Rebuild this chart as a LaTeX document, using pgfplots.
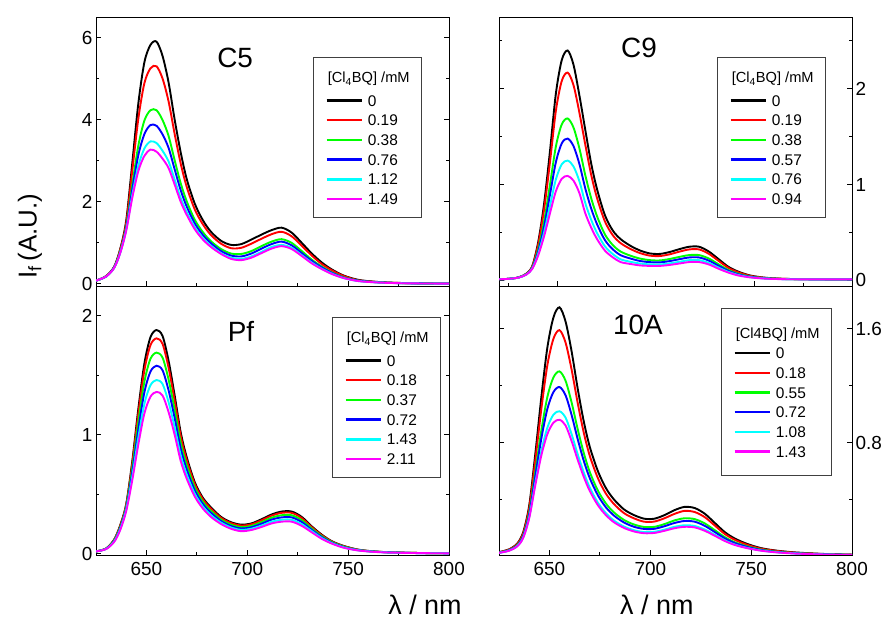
\documentclass[border=0pt]{standalone}
\usepackage{fontspec}
\setmainfont{Liberation Sans}
\usepackage{pgfplots}
\usepackage{pgfplotstable}
\pgfplotsset{compat=1.18}
\definecolor{cBlack}{RGB}{0,0,0}
\definecolor{cRed}{RGB}{255,0,0}
\definecolor{cGreen}{RGB}{0,255,0}
\definecolor{cBlue}{RGB}{0,0,255}
\definecolor{cCyan}{RGB}{0,255,255}
\definecolor{cMag}{RGB}{255,0,255}

% columns: x, [Cl4BQ]=0, c1, c2, c3, c4, c5
\pgfplotstableread{
x k r g b c m
625 0.08 0.08 0.08 0.08 0.08 0.08
630 0.19 0.19 0.18 0.18 0.18 0.18
634 0.42 0.41 0.40 0.40 0.39 0.39
637 0.85 0.83 0.79 0.77 0.76 0.75
640 1.55 1.49 1.39 1.36 1.32 1.30
643 2.95 2.76 2.42 2.30 2.17 2.10
646 4.40 4.03 3.37 3.14 2.88 2.75
649 5.40 4.89 3.98 3.65 3.30 3.12
652 5.82 5.25 4.23 3.87 3.47 3.27
655 5.90 5.30 4.23 3.85 3.43 3.22
658 5.55 5.00 3.99 3.64 3.24 3.05
661 4.90 4.44 3.60 3.31 2.98 2.82
664 4.00 3.65 3.01 2.79 2.54 2.42
667 3.20 2.93 2.45 2.28 2.09 2.00
670 2.55 2.36 2.01 1.88 1.75 1.68
674 1.95 1.81 1.56 1.47 1.38 1.33
678 1.55 1.45 1.26 1.19 1.12 1.08
682 1.27 1.19 1.04 0.99 0.93 0.90
687 1.05 0.98 0.85 0.80 0.75 0.73
692 0.95 0.87 0.74 0.69 0.64 0.61
697 0.97 0.88 0.73 0.67 0.61 0.58
702 1.08 0.98 0.80 0.74 0.67 0.64
707 1.20 1.10 0.92 0.86 0.78 0.75
712 1.31 1.21 1.03 0.97 0.90 0.86
717 1.37 1.27 1.09 1.03 0.95 0.92
722 1.25 1.16 1.00 0.94 0.88 0.85
727 1.00 0.93 0.80 0.75 0.70 0.68
732 0.74 0.69 0.59 0.56 0.52 0.50
737 0.52 0.48 0.42 0.40 0.37 0.36
742 0.35 0.33 0.28 0.27 0.25 0.24
748 0.20 0.19 0.16 0.15 0.14 0.14
755 0.10 0.09 0.08 0.08 0.07 0.07
763 0.055 0.052 0.046 0.044 0.041 0.04
772 0.03 0.028 0.025 0.024 0.023 0.022
785 0.015 0.014 0.013 0.013 0.012 0.012
800 0.01 0.01 0.009 0.008 0.008 0.008
}\dataCfive

\pgfplotstableread{
x k r g b c m
620 0.01 0.01 0.01 0.01 0.01 0.01
625 0.015 0.015 0.015 0.015 0.015 0.015
630 0.03 0.03 0.029 0.029 0.028 0.028
634 0.07 0.068 0.065 0.063 0.061 0.06
637 0.15 0.145 0.134 0.129 0.124 0.12
640 0.40 0.375 0.324 0.302 0.277 0.26
643 0.80 0.74 0.616 0.561 0.501 0.46
646 1.35 1.236 0.998 0.894 0.779 0.70
649 1.95 1.77 1.397 1.234 1.054 0.93
652 2.30 2.082 1.628 1.43 1.211 1.06
655 2.40 2.169 1.69 1.48 1.25 1.09
658 2.25 2.037 1.594 1.401 1.188 1.04
661 1.93 1.75 1.377 1.214 1.034 0.91
664 1.57 1.417 1.098 0.959 0.806 0.70
667 1.22 1.102 0.857 0.75 0.632 0.55
670 0.95 0.858 0.668 0.585 0.493 0.43
674 0.68 0.615 0.479 0.42 0.355 0.31
678 0.52 0.471 0.368 0.323 0.274 0.24
682 0.43 0.388 0.30 0.262 0.219 0.19
687 0.36 0.327 0.257 0.227 0.193 0.17
692 0.31 0.283 0.226 0.201 0.174 0.155
697 0.28 0.257 0.21 0.189 0.166 0.15
702 0.275 0.253 0.207 0.187 0.165 0.15
707 0.295 0.271 0.222 0.20 0.176 0.16
712 0.325 0.299 0.244 0.22 0.193 0.175
717 0.35 0.322 0.263 0.238 0.21 0.19
722 0.35 0.322 0.263 0.238 0.21 0.19
727 0.30 0.276 0.227 0.205 0.181 0.165
732 0.22 0.202 0.166 0.15 0.132 0.12
737 0.14 0.129 0.107 0.098 0.087 0.08
742 0.09 0.083 0.068 0.062 0.055 0.05
748 0.05 0.046 0.039 0.036 0.032 0.03
755 0.028 0.026 0.023 0.021 0.019 0.018
763 0.017 0.016 0.014 0.013 0.013 0.012
772 0.012 0.012 0.011 0.011 0.01 0.01
785 0.01 0.01 0.009 0.009 0.009 0.009
800 0.01 0.01 0.009 0.009 0.009 0.009
}\dataCnine

\pgfplotstableread{
x k r g b c m
625 0.02 0.02 0.02 0.02 0.02 0.02
630 0.045 0.044 0.043 0.042 0.041 0.04
634 0.12 0.117 0.113 0.108 0.104 0.10
637 0.24 0.235 0.225 0.217 0.208 0.20
640 0.42 0.412 0.398 0.385 0.372 0.36
643 0.78 0.758 0.722 0.688 0.651 0.62
646 1.22 1.18 1.11 1.047 0.978 0.92
649 1.60 1.543 1.447 1.358 1.261 1.18
652 1.82 1.753 1.638 1.531 1.416 1.32
655 1.88 1.81 1.69 1.58 1.46 1.36
658 1.83 1.763 1.648 1.541 1.426 1.33
661 1.62 1.562 1.463 1.372 1.273 1.19
664 1.33 1.285 1.21 1.14 1.063 1.00
667 1.02 0.988 0.932 0.882 0.826 0.78
670 0.81 0.786 0.744 0.706 0.665 0.63
674 0.60 0.584 0.556 0.531 0.503 0.48
678 0.47 0.458 0.437 0.418 0.397 0.38
682 0.39 0.379 0.361 0.344 0.325 0.31
687 0.31 0.302 0.288 0.275 0.262 0.25
692 0.265 0.258 0.245 0.233 0.221 0.21
697 0.245 0.238 0.225 0.213 0.201 0.19
702 0.255 0.248 0.235 0.223 0.211 0.20
707 0.29 0.281 0.266 0.252 0.237 0.225
712 0.33 0.32 0.303 0.287 0.269 0.255
717 0.355 0.344 0.324 0.306 0.286 0.27
722 0.355 0.344 0.324 0.306 0.286 0.27
727 0.31 0.30 0.283 0.267 0.249 0.235
732 0.23 0.223 0.212 0.201 0.19 0.18
737 0.16 0.155 0.147 0.14 0.132 0.125
742 0.105 0.102 0.098 0.093 0.089 0.085
748 0.065 0.063 0.06 0.056 0.053 0.05
755 0.035 0.034 0.032 0.031 0.029 0.028
763 0.02 0.019 0.019 0.018 0.017 0.016
772 0.012 0.012 0.011 0.011 0.01 0.01
785 0.007 0.007 0.007 0.006 0.006 0.006
800 0.005 0.005 0.005 0.004 0.004 0.004
}\dataPf

\pgfplotstableread{
x k r g b c m
625 0.03 0.029 0.027 0.026 0.025 0.025
630 0.05 0.048 0.044 0.043 0.041 0.04
634 0.09 0.086 0.079 0.076 0.072 0.07
637 0.17 0.162 0.147 0.142 0.133 0.13
640 0.36 0.342 0.309 0.296 0.277 0.27
643 0.72 0.675 0.595 0.564 0.517 0.50
646 1.12 1.037 0.886 0.829 0.741 0.71
649 1.47 1.346 1.122 1.038 0.906 0.86
652 1.68 1.53 1.258 1.155 0.996 0.94
655 1.75 1.59 1.30 1.19 1.02 0.96
658 1.65 1.502 1.234 1.132 0.975 0.92
661 1.44 1.312 1.081 0.993 0.858 0.81
664 1.18 1.079 0.895 0.825 0.718 0.68
667 0.95 0.871 0.728 0.673 0.59 0.56
670 0.77 0.707 0.593 0.55 0.484 0.46
674 0.60 0.551 0.463 0.43 0.378 0.36
678 0.48 0.441 0.372 0.345 0.304 0.29
682 0.40 0.368 0.309 0.287 0.252 0.24
687 0.33 0.304 0.256 0.238 0.21 0.20
692 0.29 0.267 0.224 0.208 0.184 0.175
697 0.265 0.244 0.207 0.193 0.171 0.163
702 0.265 0.245 0.208 0.194 0.173 0.165
707 0.29 0.268 0.227 0.212 0.188 0.18
712 0.325 0.299 0.253 0.235 0.208 0.198
717 0.348 0.32 0.268 0.249 0.219 0.208
722 0.34 0.312 0.262 0.244 0.214 0.204
727 0.30 0.276 0.232 0.215 0.189 0.18
732 0.235 0.217 0.184 0.171 0.152 0.145
737 0.17 0.157 0.135 0.126 0.113 0.108
742 0.125 0.116 0.099 0.093 0.083 0.08
748 0.088 0.082 0.071 0.067 0.06 0.058
755 0.058 0.054 0.048 0.045 0.041 0.04
763 0.04 0.038 0.033 0.031 0.029 0.028
772 0.028 0.026 0.023 0.022 0.021 0.02
785 0.018 0.017 0.016 0.015 0.014 0.014
800 0.012 0.012 0.011 0.011 0.01 0.01
}\dataTenA

\pgfplotsset{
  panel/.style={
    scale only axis, width=353bp, height=269bp, anchor=south west,
    xmax=800,
    xtick={650,700,750,800}, minor xtick={625,675,725,775},
    xtick pos=bottom, ytick pos=both,
    tick align=inside,
    major tick length=5bp, minor tick length=3bp,
    axis line style={line width=0.9bp},
    every tick/.append style={line width=0.9bp, black},
    every minor tick/.append style={line width=0.9bp, black},
    tick label style={font=\fontsize{19}{19}\selectfont},
    /pgf/number format/assume math mode=true,
    xticklabel style={yshift=-4bp},
    every axis plot/.append style={line width=1.9bp, smooth, no markers},
  },
  mylegend/.style={
    legend style={
      at={#1}, anchor=north west,
      draw=black!75, line width=0.8bp, fill=white,
      inner xsep=12bp, inner ysep=11.9bp,
      row sep=1.7bp, column sep=5bp,
      cells={anchor=base west},
      nodes={inner sep=0pt, text height=17.2bp, text depth=0.8bp},
      font=\fontsize{15.5}{15.5}\selectfont,
    },
    legend image code/.code={\draw[##1, line width=2.4bp] (0bp,5.6bp) -- (35bp,5.6bp);},
  },
}
\newcommand{\ttl}[1]{\hspace{-40bp}\raisebox{3.5bp}{\fontsize{14.7}{14.7}\selectfont #1}}

\begin{document}
\begin{tikzpicture}
\path[use as bounding box] (0,0) rectangle (889bp,621bp);

% ---------- C5 ----------
\begin{axis}[panel, at={(96bp,335bp)}, xmin=625, ymin=-0.05, ymax=6.5,
  ytick={0,2,4,6}, minor ytick={1,3,5}, xticklabels={},
  mylegend={(0.6147,0.8513)}]
\addlegendimage{empty legend}\addlegendentry{\ttl{[Cl\textsubscript{4}BQ] /mM}}
\addplot[cBlack] table[x=x,y=k]{\dataCfive}; \addlegendentry{0}
\addplot[cRed]   table[x=x,y=r]{\dataCfive}; \addlegendentry{0.19}
\addplot[cGreen] table[x=x,y=g]{\dataCfive}; \addlegendentry{0.38}
\addplot[cBlue]  table[x=x,y=b]{\dataCfive}; \addlegendentry{0.76}
\addplot[cCyan]  table[x=x,y=c]{\dataCfive}; \addlegendentry{1.12}
\addplot[cMag]   table[x=x,y=m]{\dataCfive}; \addlegendentry{1.49}
\node[font=\fontsize{28}{28}\selectfont] at (rel axis cs:0.394,0.849) {C5};
\end{axis}

% ---------- C9 ----------
\begin{axis}[panel, at={(499bp,335bp)}, xmin=620, ymin=-0.06, ymax=2.75,
  ytick={0,1,2}, minor ytick={0.5,1.5,2.5}, xticklabels={},
  yticklabel pos=right, ytick pos=both,
  mylegend={(0.6176,0.8513)}]
\addlegendimage{empty legend}\addlegendentry{\ttl{[Cl\textsubscript{4}BQ] /mM}}
\addplot[cBlack] table[x=x,y=k]{\dataCnine}; \addlegendentry{0}
\addplot[cRed]   table[x=x,y=r]{\dataCnine}; \addlegendentry{0.19}
\addplot[cGreen] table[x=x,y=g]{\dataCnine}; \addlegendentry{0.38}
\addplot[cBlue]  table[x=x,y=b]{\dataCnine}; \addlegendentry{0.57}
\addplot[cCyan]  table[x=x,y=c]{\dataCnine}; \addlegendentry{0.76}
\addplot[cMag]   table[x=x,y=m]{\dataCnine}; \addlegendentry{0.94}
\node[font=\fontsize{28}{28}\selectfont] at (rel axis cs:0.3966,0.8848) {C9};
\end{axis}

% ---------- Pf ----------
\begin{axis}[panel, at={(96bp,66bp)}, xmin=625, ymin=-0.01, ymax=2.25,
  ytick={0,1,2}, minor ytick={0.5,1.5},
  mylegend={(0.6686,0.8848)}]
\addlegendimage{empty legend}\addlegendentry{\ttl{[Cl\textsubscript{4}BQ] /mM}}
\addplot[cBlack] table[x=x,y=k]{\dataPf}; \addlegendentry{0}
\addplot[cRed]   table[x=x,y=r]{\dataPf}; \addlegendentry{0.18}
\addplot[cGreen] table[x=x,y=g]{\dataPf}; \addlegendentry{0.37}
\addplot[cBlue]  table[x=x,y=b]{\dataPf}; \addlegendentry{0.72}
\addplot[cCyan]  table[x=x,y=c]{\dataPf}; \addlegendentry{1.43}
\addplot[cMag]   table[x=x,y=m]{\dataPf}; \addlegendentry{2.11}
\node[font=\fontsize{28}{28}\selectfont] at (rel axis cs:0.4108,0.830) {Pf};
\end{axis}

% ---------- 10A ----------
\begin{axis}[panel, at={(499bp,66bp)}, xmin=625, ymin=0.01, ymax=1.9,
  ytick={0.8,1.6}, minor ytick={0.4,1.2},
  yticklabel pos=right, ytick pos=both,
  mylegend={(0.6289,0.9182)},
  legend style={inner ysep=13.5bp, row sep=-2.3bp, nodes={text height=17bp, text depth=5bp}}]
\addlegendimage{empty legend}\addlegendentry{\hspace{-40bp}{\fontsize{14.7}{14.7}\selectfont [Cl4BQ] /mM}}
\addplot[cBlack] table[x=x,y=k]{\dataTenA}; \addlegendentry{0}
\addplot[cRed]   table[x=x,y=r]{\dataTenA}; \addlegendentry{0.18}
\addplot[cGreen] table[x=x,y=g]{\dataTenA}; \addlegendentry{0.55}
\addplot[cBlue]  table[x=x,y=b]{\dataTenA}; \addlegendentry{0.72}
\addplot[cCyan]  table[x=x,y=c]{\dataTenA}; \addlegendentry{1.08}
\addplot[cMag]   table[x=x,y=m]{\dataTenA}; \addlegendentry{1.43}
\node[font=\fontsize{28}{28}\selectfont] at (rel axis cs:0.3938,0.855) {10A};
\end{axis}

% axis labels
\node[rotate=90, font=\fontsize{26}{26}\selectfont] at (30bp,385bp) {I\textsubscript{f}\,(A.U.)};
\node[anchor=base, font=\fontsize{27}{27}\selectfont] at (425bp,7bp) {λ / nm};
\node[anchor=base, font=\fontsize{27}{27}\selectfont] at (656.8bp,7bp) {λ / nm};
\end{tikzpicture}
\end{document}
